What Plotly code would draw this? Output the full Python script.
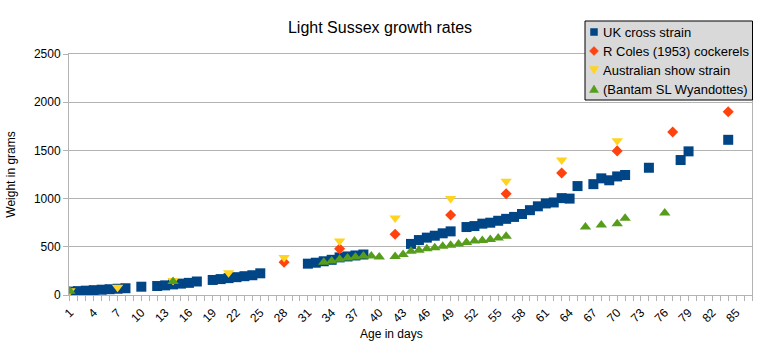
import plotly.graph_objects as go

# UK cross strain (squares)
uk_days = [1, 2, 3, 4, 5, 6, 7, 8, 10, 12, 13, 14, 15, 16, 17, 19, 20, 21, 22, 23, 24, 25,
           31, 32, 33, 34, 35, 36, 37, 38, 44, 45, 46, 47, 48, 49,
           51, 52, 53, 54, 55, 56, 57, 58, 59, 60, 61, 62, 63, 64,
           65, 67, 68, 69, 70, 71, 74, 78, 79, 84]
uk_weight = [35, 40, 45, 50, 55, 60, 65, 70, 86, 93, 100, 110, 118, 126, 140, 156, 165, 175, 185, 195, 205, 225,
             325, 335, 350, 365, 390, 400, 410, 420, 530, 570, 595, 615, 640, 660,
             705, 715, 740, 750, 770, 790, 810, 840, 880, 920, 950, 960, 1005, 1000,
             1130, 1150, 1210, 1190, 1230, 1245, 1320, 1400, 1490, 1610]

# R Coles (1953) cockerels (diamonds)
coles_days = [28, 35, 42, 49, 56, 63, 70, 77, 84]
coles_weight = [340, 480, 630, 830, 1050, 1265, 1495, 1690, 1900]

# Australian show strain (triangle down)
aus_days = [1, 7, 14, 21, 28, 35, 42, 49, 56, 63, 70]
aus_weight = [45, 80, 150, 230, 390, 560, 800, 1000, 1180, 1400, 1600]

# (Bantam SL Wyandottes) (triangle up)
bantam_days = [1, 14, 33, 34, 35, 36, 37, 38, 39, 40, 42, 43, 44, 45, 46, 47, 48, 49, 50,
               51, 52, 53, 54, 55, 56, 66, 68, 70, 71, 76]
bantam_weight = [40, 140, 340, 353, 370, 385, 395, 405, 405, 395, 400, 420, 455, 465, 480, 490, 505, 515, 530,
                 545, 560, 565, 575, 590, 610, 705, 725, 740, 795, 850]

series_names = ["UK cross strain", "R Coles (1953) cockerels",
                "Australian show strain", "(Bantam SL Wyandottes)"]
series_colors = ["#004586", "#ff420e", "#ffd320", "#579d1c"]

x_ticks = list(range(1, 86, 3))

# layout geometry (pixels)
W, H = 760, 345
L, R, T, B = 69, 8, 54, 50
PW, PH = W - L - R, H - T - B


def px(x):
    return (x - L) / PW


def py(y):
    return (H - B - y) / PH


fig = go.Figure()
fig.add_trace(go.Scatter(x=uk_days, y=uk_weight, mode="markers", name=series_names[0],
                         marker=dict(symbol="square", size=10, color=series_colors[0])))
fig.add_trace(go.Scatter(x=coles_days, y=coles_weight, mode="markers", name=series_names[1],
                         marker=dict(symbol="diamond", size=8.5, color=series_colors[1])))
fig.add_trace(go.Scatter(x=aus_days, y=aus_weight, mode="markers", name=series_names[2],
                         marker=dict(symbol="triangle-down", size=10, color=series_colors[2])))
fig.add_trace(go.Scatter(x=bantam_days, y=bantam_weight, mode="markers", name=series_names[3],
                         marker=dict(symbol="triangle-up", size=10, color=series_colors[3])))

# custom legend box
shapes = [dict(type="rect", xref="paper", yref="paper",
               x0=px(585), x1=px(752.5), y0=py(100), y1=py(21),
               fillcolor="#d9d9d9", line=dict(color="#000000", width=1), layer="above")]
annotations = []
row_y = [32, 51, 70, 89]
gx = 594
for i, (name, col) in enumerate(zip(series_names, series_colors)):
    cy = row_y[i]
    if i == 0:
        path = f"M{px(gx-3.5)},{py(cy-3.5)} L{px(gx+3.5)},{py(cy-3.5)} L{px(gx+3.5)},{py(cy+3.5)} L{px(gx-3.5)},{py(cy+3.5)} Z"
    elif i == 1:
        path = f"M{px(gx)},{py(cy-4.5)} L{px(gx+4.5)},{py(cy)} L{px(gx)},{py(cy+4.5)} L{px(gx-4.5)},{py(cy)} Z"
    elif i == 2:
        path = f"M{px(gx-4.5)},{py(cy-3.5)} L{px(gx+4.5)},{py(cy-3.5)} L{px(gx)},{py(cy+4)} Z"
    else:
        path = f"M{px(gx-4.5)},{py(cy+3.5)} L{px(gx+4.5)},{py(cy+3.5)} L{px(gx)},{py(cy-4)} Z"
    shapes.append(dict(type="path", xref="paper", yref="paper", path=path,
                       fillcolor=col, line=dict(color=col, width=0.5), layer="above"))
    annotations.append(dict(text=name, x=px(600.5), y=py(cy), xref="paper", yref="paper",
                            showarrow=False, xanchor="left", yanchor="middle",
                            font=dict(size=13, color="#000000")))

annotations.append(dict(text="Age in days", x=px(391), y=py(334),
                        xref="paper", yref="paper", showarrow=False,
                        font=dict(size=12, color="#000000"), xanchor="center", yanchor="middle"))

fig.update_layout(
    width=W, height=H,
    margin=dict(l=L, r=R, t=T, b=B),
    paper_bgcolor="white", plot_bgcolor="white",
    font=dict(family="Liberation Sans, Arial, sans-serif", size=12, color="#000000"),
    title=dict(text="Light Sussex growth rates", x=0.5, xref="container", xanchor="center",
               y=1 - 27 / H, yref="container", yanchor="middle",
               font=dict(size=16, color="#000000")),
    showlegend=False,
    xaxis=dict(range=[0.88, 87], tickmode="array", tickvals=x_ticks,
               ticktext=[str(v) for v in x_ticks], tickangle=-45,
               showgrid=False, zeroline=False,
               showline=True, linecolor="#b3b3b3", linewidth=1, mirror=True,
               ticks="outside", ticklen=5, tickcolor="#b3b3b3",
               minor=dict(dtick=1, tick0=1, ticks="outside", ticklen=5, tickcolor="#b3b3b3", showgrid=False),
               tickfont=dict(size=12)),
    yaxis=dict(range=[0, 2500], dtick=500, tick0=0,
               showgrid=True, gridcolor="#b3b3b3", gridwidth=1, zeroline=False,
               showline=True, linecolor="#b3b3b3", linewidth=1, mirror=True,
               ticks="outside", ticklen=5, tickcolor="#b3b3b3",
               tickfont=dict(size=12),
               title=dict(text="Weight in grams", font=dict(size=12), standoff=15)),
    shapes=shapes,
    annotations=annotations,
)

fig.write_html("out.html")
